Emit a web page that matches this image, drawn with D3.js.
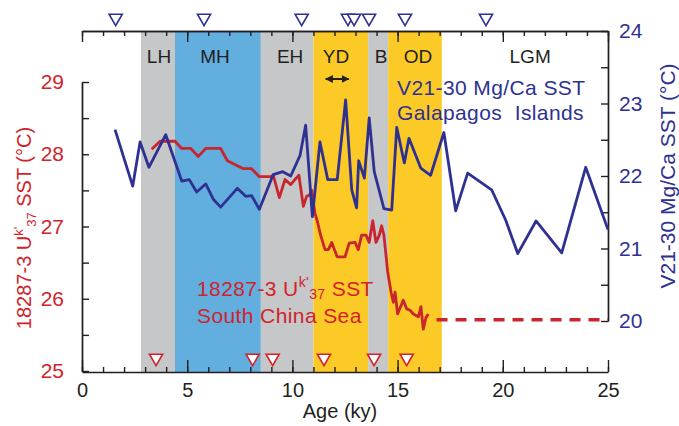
<!DOCTYPE html>
<html><head><meta charset="utf-8">
<script src="https://cdn.jsdelivr.net/npm/d3@7"></script>
<style>
body{margin:0;background:#fff;}
svg{font-family:"Liberation Sans",Arial,Helvetica,sans-serif;}
</style></head>
<body><svg id="c" width="679" height="426"></svg>
<script>
// ---- data ----
const ageTicks = [0,5,10,15,20,25];
const ageMinorTicks = d3.range(0,26,1);
const leftTicks = [25,26,27,28,29];
const leftMinorTicks = [25.5,26.5,27.5,28.5];
const rightTicks = [20,21,22,23,24];
const rightMinorTicks = [20.5,21.5,22.5,23.5];

const bandNames  = ["LH","MH","EH","YD","B","OD","LGM"];
const bandStarts = [2.8, 4.42, 8.5, 11.0, 13.6, 14.55, 17.1];
const bandEnds   = [4.42, 8.5, 11.0, 13.6, 14.55, 17.1, 25];
const bandKinds  = ["gray","blue","gray","yellow","gray","yellow","none"];
const bandLabelAges = [3.66, 6.32, 9.89, 12.07, 14.21, 15.97, 21.3];
const ydArrowAges = [11.44, 12.82];

// V21-30 Mg/Ca SST (right axis)
const mgAges = [1.57,2.41,2.76,3.18,3.98,4.74,5.1,5.45,5.88,6.24,6.59,7.38,7.78,8.06,8.43,9.09,9.54,9.92,10.36,10.63,10.95,11.31,11.68,12.13,12.53,12.82,13.05,13.15,13.42,13.65,13.89,14.35,14.72,14.96,15.32,15.54,16.1,16.57,17.2,17.76,18.33,19.47,20.14,20.71,21.58,22.8,23.94,25.0];
const mgSST  = [22.64,21.86,22.47,22.12,22.57,21.93,21.95,21.78,21.89,21.68,21.57,21.83,21.72,21.73,21.54,22.02,22.06,22.0,22.28,22.70,21.44,22.47,21.95,21.95,23.05,21.81,21.56,22.21,21.97,22.80,22.06,21.55,21.53,22.67,22.18,22.52,22.11,22.01,22.60,21.52,22.04,21.81,21.39,20.93,21.38,20.94,22.12,21.26];

// 18287-3 Uk'37 SST (left axis)
const ukAges = [3.31,3.71,4.42,4.74,5.17,5.53,5.88,6.59,6.91,7.67,8.06,8.43,8.98,9.09,9.38,9.65,9.92,10.12,10.31,10.52,10.68,10.80,10.92,11.07,11.18,11.34,11.55,11.71,11.87,12.13,12.5,12.7,12.98,13.13,13.29,13.5,13.65,13.82,13.97,14.13,14.24,14.35,14.53,14.69,14.8,14.88,15.0,15.27,15.43,15.59,15.75,15.99,16.11,16.22,16.35,16.46];
const ukSST  = [28.07,28.18,28.18,28.08,28.08,27.97,28.08,28.08,27.91,27.80,27.80,27.69,27.69,27.71,27.40,27.65,27.58,27.65,27.71,27.28,27.42,27.43,27.5,27.18,27.08,26.88,26.68,26.68,26.78,26.58,26.58,26.77,26.78,26.68,26.88,26.88,26.78,27.08,26.78,26.88,27.01,26.88,26.37,26.09,25.95,26.09,25.79,25.98,25.86,25.84,25.79,25.75,25.89,25.58,25.74,25.79];
const ukLGMAges = [16.85, 25];
const ukLGMSST  = [25.71, 25.71];

// age control markers
const mgMarkerAges = [1.6,5.8,10.44,12.64,12.93,13.64,15.35,19.2];
const ukMarkerAges = [3.52,8.11,9.06,11.5,13.88,15.43];

// ---- style ----
const RED = "#d2232a", REDLINE = "#c9252c", BLUE = "#2e3192", INK = "#231f20";
const bandColor = {gray:"#c6c7c9", blue:"#62aedf", yellow:"#fcca26", none:"none"};
const FONT = "Liberation Sans, Arial, sans-serif";

const svg = d3.select("#c");
const x  = d3.scaleLinear().domain([0,25]).range([82,608]);
const yL = d3.scaleLinear().domain([25,29]).range([371,82]);
const yR = d3.scaleLinear().domain([20,24]).range([321,31]);
const TOP = 31, BOT = 372;

// bands
const bands = bandNames.map((n,i)=>({name:n,s:bandStarts[i],e:bandEnds[i],k:bandKinds[i],la:bandLabelAges[i]}));
svg.append("g").selectAll("rect").data(bands.filter(b=>b.k!=="none")).join("rect")
  .attr("x",d=>x(d.s)).attr("width",d=>x(d.e)-x(d.s))
  .attr("y",TOP).attr("height",BOT-TOP).attr("fill",d=>bandColor[d.k]);
svg.append("g").selectAll("text").data(bands).join("text")
  .attr("x",d=>x(d.la)).attr("y",63).attr("text-anchor","middle")
  .attr("font-size",19).attr("fill",INK).text(d=>d.name);

// YD arrow
const defs = svg.append("defs");
defs.append("marker").attr("id","ah").attr("viewBox","0 0 10 10").attr("refX",9).attr("refY",5)
  .attr("markerWidth",4).attr("markerHeight",4).attr("orient","auto-start-reverse").attr("markerUnits","strokeWidth")
  .append("path").attr("d","M0,0 L10,5 L0,10 z").attr("fill",INK);
svg.append("line").attr("x1",x(ydArrowAges[0])+3).attr("x2",x(ydArrowAges[1])-3).attr("y1",79).attr("y2",79)
  .attr("stroke",INK).attr("stroke-width",2).attr("marker-start","url(#ah)").attr("marker-end","url(#ah)");

// axes
function styleAxis(g){ g.selectAll("path,line").attr("stroke",INK).attr("stroke-width",1.4); g.selectAll("text").remove(); }
const fmt = d3.format("d");
// bottom
svg.append("g").attr("transform",`translate(0,${BOT})`)
  .call(d3.axisBottom(x).tickValues(ageMinorTicks).tickSizeInner(-5).tickSizeOuter(0)).call(styleAxis);
const gb = svg.append("g").attr("transform",`translate(0,${BOT})`)
  .call(d3.axisBottom(x).tickValues(ageTicks).tickSizeInner(-12).tickSizeOuter(0).tickPadding(11).tickFormat(fmt));
gb.selectAll("path,line").attr("stroke",INK).attr("stroke-width",1.4);
gb.selectAll("text").attr("font-size",20).attr("fill",INK).attr("font-family",FONT);
gb.select(".domain").remove();
// top
svg.append("g").attr("transform",`translate(0,${TOP})`)
  .call(d3.axisTop(x).tickValues(ageMinorTicks).tickSizeInner(-5).tickSizeOuter(0)).call(styleAxis);
svg.append("g").attr("transform",`translate(0,${TOP})`)
  .call(d3.axisTop(x).tickValues(ageTicks).tickSizeInner(-11).tickSizeOuter(0)).call(styleAxis);
// left
const gl = svg.append("g").attr("transform",`translate(82,0)`)
  .call(d3.axisLeft(yL).tickValues(leftTicks).tickSizeInner(-7).tickSizeOuter(0).tickPadding(18).tickFormat(fmt));
gl.selectAll("path,line").attr("stroke",INK).attr("stroke-width",1.4);
gl.selectAll("text").attr("font-size",21).attr("fill",RED).attr("font-family",FONT);
svg.append("g").attr("transform",`translate(82,0)`)
  .call(d3.axisLeft(yL).tickValues(leftMinorTicks).tickSizeInner(-7).tickSizeOuter(0)).call(styleAxis);
// right
const gr = svg.append("g").attr("transform",`translate(608,0)`)
  .call(d3.axisRight(yR).tickValues(rightTicks).tickSizeInner(-7).tickSizeOuter(0).tickPadding(11).tickFormat(fmt));
gr.selectAll("path,line").attr("stroke",INK).attr("stroke-width",1.4);
gr.selectAll("text").attr("font-size",21).attr("fill",BLUE).attr("font-family",FONT);
svg.append("g").attr("transform",`translate(608,0)`)
  .call(d3.axisRight(yR).tickValues(rightMinorTicks).tickSizeInner(-7).tickSizeOuter(0)).call(styleAxis);

// lines
const lineMg = d3.line().x(d=>x(d[0])).y(d=>yR(d[1]));
const lineUk = d3.line().x(d=>x(d[0])).y(d=>yL(d[1]));
svg.append("path").datum(d3.zip(ukAges,ukSST)).attr("d",lineUk)
  .attr("fill","none").attr("stroke",REDLINE).attr("stroke-width",2.8).attr("stroke-linejoin","round");
svg.append("path").datum(d3.zip(ukLGMAges,ukLGMSST)).attr("d",lineUk)
  .attr("fill","none").attr("stroke",REDLINE).attr("stroke-width",3.5).attr("stroke-dasharray","11,8");
svg.append("path").datum(d3.zip(mgAges,mgSST)).attr("d",lineMg)
  .attr("fill","none").attr("stroke",BLUE).attr("stroke-width",2.8).attr("stroke-linejoin","round");

// markers
const tri = d3.symbol().type(d3.symbolTriangle).size(75);
svg.append("g").selectAll("path").data(mgMarkerAges).join("path")
  .attr("d",tri).attr("transform",d=>`translate(${x(d)},18) rotate(180)`)
  .attr("fill","#fff").attr("stroke",BLUE).attr("stroke-width",1.6);
svg.append("g").selectAll("path").data(ukMarkerAges).join("path")
  .attr("d",tri).attr("transform",d=>`translate(${x(d)},358) rotate(180)`)
  .attr("fill","#fff").attr("stroke",RED).attr("stroke-width",1.6);

// legends in plot
const tb = svg.append("g").attr("fill",BLUE).attr("font-size",21).attr("letter-spacing",0.4);
tb.append("text").attr("x",397).attr("y",95).text("V21-30 Mg/Ca SST");
tb.append("text").attr("x",397).attr("y",120).attr("xml:space","preserve").style("white-space","pre").text("Galapagos  Islands");

const tr = svg.append("g").attr("fill",RED).attr("font-size",21).attr("letter-spacing",0.4);
const t1 = tr.append("text").attr("x",197).attr("y",296);
t1.append("tspan").text("18287-3 U");
t1.append("tspan").attr("font-size",14).attr("dy",-9).text("k'");
t1.append("tspan").attr("font-size",14).attr("dy",12).text("37");
t1.append("tspan").attr("dy",-3).text(" SST");
tr.append("text").attr("x",197).attr("y",323).text("South China Sea");

// axis titles
svg.append("text").attr("x",340).attr("y",418).attr("text-anchor","middle").attr("font-size",20).attr("fill",INK).text("Age (ky)");
const lt = svg.append("text").attr("transform","translate(31,228) rotate(-90)").attr("text-anchor","middle")
  .attr("font-size",20).attr("fill",RED);
lt.append("tspan").text("18287-3 U");
lt.append("tspan").attr("font-size",13).attr("dy",-8).text("k'");
lt.append("tspan").attr("font-size",13).attr("dy",13).text("37");
lt.append("tspan").attr("dy",-5).text(" SST (°C)");
svg.append("text").attr("transform","translate(675,176) rotate(-90)").attr("text-anchor","middle")
  .attr("font-size",21).attr("fill",BLUE).text("V21-30 Mg/Ca SST (°C)");
</script></body></html>
